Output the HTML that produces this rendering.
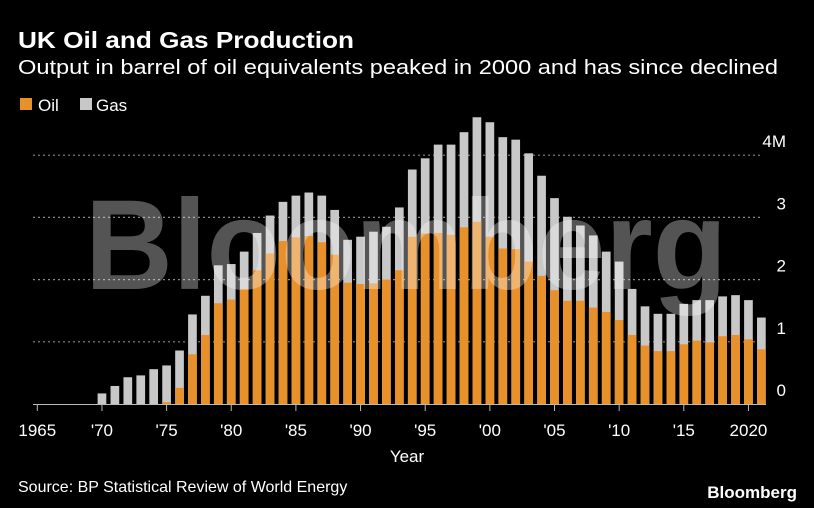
<!DOCTYPE html>
<html><head><meta charset="utf-8"><style>
html,body{margin:0;padding:0;background:#000;}
svg{display:block;font-family:"Liberation Sans",sans-serif;}
</style></head><body>
<svg id="chart" width="814" height="508" viewBox="0 0 814 508">
<rect x="0" y="0" width="814" height="508" fill="#000"/>
<text x="18" y="48" fill="#fff" font-size="23" font-weight="bold" textLength="336" lengthAdjust="spacingAndGlyphs">UK Oil and Gas Production</text>
<text x="18" y="74" fill="#fff" font-size="20" textLength="760" lengthAdjust="spacingAndGlyphs">Output in barrel of oil equivalents peaked in 2000 and has since declined</text>
<g>
<rect x="20" y="98" width="12" height="12" fill="#e8912b"/>
<text x="38" y="111" fill="#fff" font-size="17">Oil</text>
<rect x="80" y="98" width="12" height="12" fill="#c8c8c8"/>
<text x="96" y="111" fill="#fff" font-size="17">Gas</text>
</g>
<g id="grid"></g>
<g id="bars"></g>
<text x="85" y="289" fill="rgba(255,255,255,0.33)" font-size="128" font-weight="bold" textLength="642" lengthAdjust="spacingAndGlyphs">Bloomberg</text>
<g id="axis"></g>
<text x="407" y="462" fill="#fff" font-size="17" text-anchor="middle">Year</text>
<text x="18" y="492" fill="#fff" font-size="16">Source: BP Statistical Review of World Energy</text>
<text x="797" y="498" fill="#fff" font-size="17" font-weight="bold" text-anchor="end">Bloomberg</text>
</svg>
<script>
const years = [];
for (let y = 1970; y <= 2021; y++) years.push(y);
const totalValues = [0.17,0.29,0.43,0.46,0.56,0.62,0.86,1.44,1.74,2.23,2.25,2.45,2.75,3.03,3.25,3.35,3.40,3.35,3.12,2.64,2.69,2.77,2.85,3.16,3.77,3.95,4.17,4.17,4.37,4.61,4.53,4.29,4.25,4.03,3.67,3.31,3.01,2.87,2.71,2.45,2.29,1.85,1.57,1.45,1.45,1.61,1.67,1.67,1.73,1.75,1.67,1.39];
const oilValues = [0,0,0,0,0,0.03,0.26,0.80,1.11,1.62,1.68,1.85,2.15,2.42,2.62,2.68,2.70,2.60,2.40,1.95,1.93,1.94,2.00,2.15,2.69,2.74,2.75,2.72,2.84,2.93,2.69,2.50,2.49,2.29,2.06,1.83,1.66,1.66,1.55,1.48,1.35,1.11,0.94,0.85,0.85,0.96,1.02,0.99,1.09,1.11,1.04,0.88];
const yTicks = [0,1,2,3,4];
const yTickLabels = ["0","1","2","3","4M"];
const xTicks = [1965,1970,1975,1980,1985,1990,1995,2000,2005,2010,2015,2020];
const xTickLabels = ["1965","'70","'75","'80","'85","'90","'95","'00","'05","'10","'15","2020"];

const NS = "http://www.w3.org/2000/svg";
const xScale = yr => 37.3 + (yr - 1965) * 12.93;
const yScale = v => 404 - v * 62.2;
const barW = 8.7;
function mk(tag, attrs, parent) {
  const e = document.createElementNS(NS, tag);
  for (const k in attrs) e.setAttribute(k, attrs[k]);
  parent.appendChild(e);
  return e;
}
const grid = document.getElementById('grid');
yTicks.forEach((t, i) => {
  if (t > 0) {
    const l = mk('line', {x1: 33, x2: 760, y1: yScale(t), y2: yScale(t), stroke: '#888', 'stroke-width': 1.2, 'stroke-dasharray': '2,3'}, grid);
    
    
  }
  const tx = mk('text', {x: 786, y: yScale(t) - 8, fill: '#fff', 'font-size': 17, 'text-anchor': 'end'}, grid);
  tx.textContent = yTickLabels[i];
  
  
});
const bars = document.getElementById('bars');
years.forEach((yr, i) => {
  const x = xScale(yr) - barW / 2;
  const g = mk('rect', {x: x, y: yScale(totalValues[i]), width: barW, height: yScale(0) - yScale(totalValues[i]), fill: '#c8c8c8'}, bars);
  
  
  if (oilValues[i] > 0) {
    const o = mk('rect', {x: x, y: yScale(oilValues[i]), width: barW, height: yScale(0) - yScale(oilValues[i]), fill: '#e8912b'}, bars);
    
    
  }
});
const axis = document.getElementById('axis');
const base = mk('line', {x1: 33, x2: 766, y1: 404.5, y2: 404.5, stroke: '#bbb', 'stroke-width': 1}, axis);


xTicks.forEach((t, i) => {
  const l = mk('line', {x1: xScale(t), x2: xScale(t), y1: 404, y2: 411, stroke: '#bbb', 'stroke-width': 1}, axis);
  
  
  const tx = mk('text', {x: xScale(t), y: 436, fill: '#fff', 'font-size': 17, 'text-anchor': 'middle'}, axis);
  tx.textContent = xTickLabels[i];
  
  
});
</script>
</body></html>
